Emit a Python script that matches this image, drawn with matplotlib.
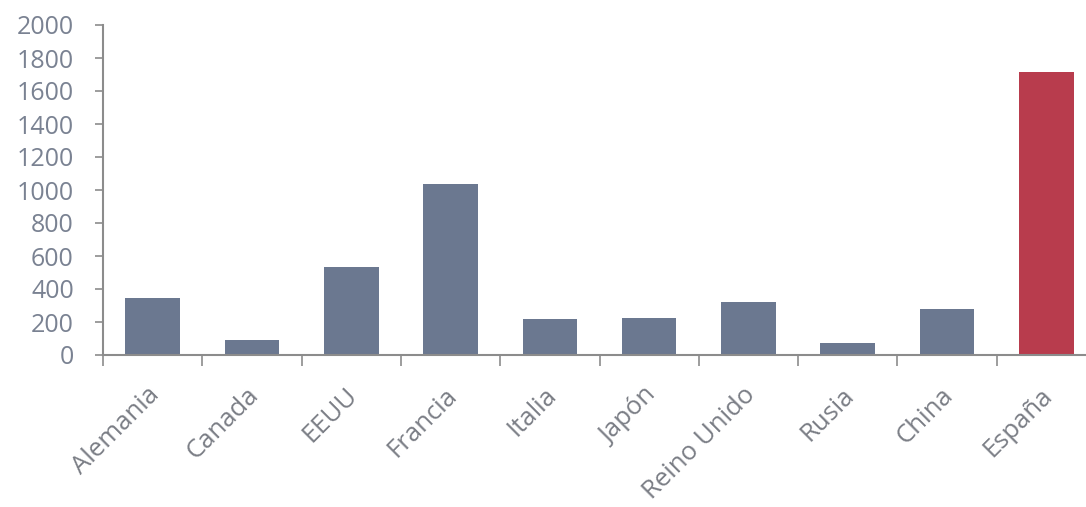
import matplotlib
matplotlib.use("Agg")
import matplotlib.pyplot as plt
from matplotlib.transforms import ScaledTranslation

categories = ["Alemania", "Canada", "EEUU", "Francia", "Italia", "Japón",
              "Reino Unido", "Rusia", "China", "España"]
values = [345, 92, 532, 1038, 216, 222, 320, 71, 278, 1718]
highlight = "España"
yticks = [0, 200, 400, 600, 800, 1000, 1200, 1400, 1600, 1800, 2000]

gray = "#6b7890"
red = "#b83c4d"
txt = "#7a8292"
xtxt = "#7a7d85"
axc = "#8c8c8c"

plt.rcParams['font.family'] = ['Open Sans', 'DejaVu Sans']

fig = plt.figure(figsize=(10.86, 5.07), dpi=100)
ax = fig.add_axes([103/1086, 152/507, 993/1086, 330/507])

colors = [red if c == highlight else gray for c in categories]
x = list(range(len(categories)))
ax.bar(x, values, width=0.55, color=colors, zorder=2)

ax.set_xlim(-0.5, len(categories) - 0.5)
ax.set_ylim(0, 2000)
ax.set_yticks(yticks)
ax.set_yticklabels([str(v) for v in yticks], fontsize=18, color=txt)

ax.set_xticks([i - 0.5 for i in range(len(categories) + 1)])
ax.set_xticklabels([])
ax.set_xticks(x, minor=True)
ax.set_xticklabels(categories, minor=True, rotation=45, ha='right',
                   rotation_mode='anchor', fontsize=18.5, color=xtxt)
ax.tick_params(axis='x', which='minor', length=0, pad=20)
ax.tick_params(axis='x', which='major', length=8, width=1.2, color=axc, direction='out')
ax.tick_params(axis='y', length=6, width=1.2, color=axc, direction='out', pad=15)
for lbl in ax.get_xticklabels(minor=True):
    lbl.set_transform(lbl.get_transform() + ScaledTranslation(-0.06, 0.0, fig.dpi_scale_trans))

for s in ['top', 'right']:
    ax.spines[s].set_visible(False)
for s in ['left', 'bottom']:
    ax.spines[s].set_color(axc)
    ax.spines[s].set_linewidth(1.5)

fig.savefig("out.png", dpi=100)
